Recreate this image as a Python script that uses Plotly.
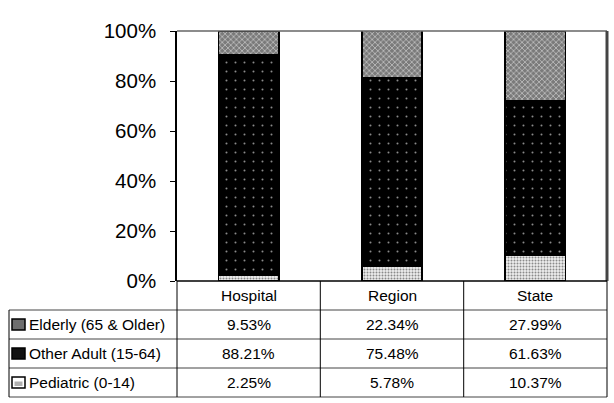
import plotly.graph_objects as go

categories = ["Hospital", "Region", "State"]
series_names = ["Pediatric (0-14)", "Other Adult (15-64)", "Elderly (65 & Older)"]
pediatric = [2.25, 5.78, 10.37]
other_adult = [88.21, 75.48, 61.63]
elderly = [9.53, 22.34, 27.99]
y_ticks = [0, 20, 40, 60, 80, 100]

W, H = 614, 403
L, R, T, B = 177, 607, 31, 281  # plot area in pixels

def px(x):
    return (x - L) / (R - L)

def py(y):
    return (B - y) / (B - T)

FONT = "Arial, Liberation Sans, sans-serif"

styles = {
    "Pediatric (0-14)": dict(color="#e6e6e6", pattern=dict(shape=".", fgcolor="#8a8a8a", bgcolor="#eeeeee", size=3, solidity=0.35, fillmode="replace")),
    "Other Adult (15-64)": dict(color="#000000", pattern=dict(shape=".", fgcolor="#8a8a8a", bgcolor="#000000", size=9, solidity=0.04, fillmode="replace")),
    "Elderly (65 & Older)": dict(color="#8c8c8c", pattern=dict(shape="x", fgcolor="#c4c4c4", bgcolor="#7a7a7a", size=4, solidity=0.35, fillmode="replace")),
}
values = {"Pediatric (0-14)": pediatric, "Other Adult (15-64)": other_adult, "Elderly (65 & Older)": elderly}

fig = go.Figure()
for name in series_names:
    st = styles[name]
    fig.add_trace(go.Bar(
        x=categories, y=values[name], name=name,
        marker=dict(color=st["color"], pattern=st["pattern"], line=dict(color="black", width=1.8)),
        showlegend=False, hoverinfo="skip",
    ))

fig.update_layout(
    barmode="stack", bargap=0.58,
    width=W, height=H,
    margin=dict(l=L, r=W - R, t=T, b=H - B, pad=0),
    plot_bgcolor="white", paper_bgcolor="white",
    font=dict(family=FONT, color="black"),
    xaxis=dict(showticklabels=False, showline=False, showgrid=False, zeroline=False, ticks=""),
    yaxis=dict(range=[0, 100], tickvals=y_ticks, ticktext=[f"{v}%" for v in y_ticks],
               tickfont=dict(size=20.5, family=FONT), ticks="outside", ticklen=5, tickcolor="black",
               ticklabelstandoff=10,
               showline=True, linecolor="black", linewidth=1.5, showgrid=False, zeroline=False),
)

shapes = []
def line(x0, y0, x1, y1, color="black", width=1):
    shapes.append(dict(type="line", xref="paper", yref="paper", x0=px(x0), y0=py(y0), x1=px(x1), y1=py(y1),
                       line=dict(color=color, width=width)))

# plot frame: top and right (grey textured look)
line(L, T, R, T, color="#666666", width=1.5)
line(R, T, R, B, color="#444444", width=3)

# table
row_y = [281, 310, 339, 368, 397]
col_x = [9, L, 320.3, 463.7, R]
line(L, 281, R, 281, width=1.5)
for y in row_y[1:]:
    line(9, y, R, y, color="#444444", width=1)
line(9, 310, 9, 397)
for x in col_x[1:]:
    line(x, 281, x, 397)

annotations = []
col_centers = [(col_x[i + 1] + col_x[i + 2]) / 2 for i in range(3)]
for cx, cat in zip(col_centers, categories):
    annotations.append(dict(x=px(cx), y=py(295.5), xref="paper", yref="paper", text=cat, showarrow=False,
                            font=dict(size=15.5, family=FONT), xanchor="center", yanchor="middle"))

table_rows = [("Elderly (65 & Older)", elderly), ("Other Adult (15-64)", other_adult), ("Pediatric (0-14)", pediatric)]
swatch_fill = {"Elderly (65 & Older)": "#6e6e6e", "Other Adult (15-64)": "#111111", "Pediatric (0-14)": "#ffffff"}
for i, (name, vals) in enumerate(table_rows):
    yc = (row_y[i + 1] + row_y[i + 2]) / 2
    shapes.append(dict(type="rect", xref="paper", yref="paper", x0=px(12), x1=px(25), y0=py(yc - 5.5), y1=py(yc + 5.5),
                       fillcolor=swatch_fill[name], line=dict(color="black", width=1.5)))
    if name == "Pediatric (0-14)":
        shapes.append(dict(type="rect", xref="paper", yref="paper", x0=px(14.5), x1=px(22.5), y0=py(yc - 1), y1=py(yc + 3.5),
                           fillcolor="#b0b0b0", line=dict(width=0)))
    annotations.append(dict(x=px(27), y=py(yc), xref="paper", yref="paper", text=name, showarrow=False,
                            font=dict(size=15.5, family=FONT), xanchor="left", yanchor="middle"))
    for cx, v in zip(col_centers, vals):
        annotations.append(dict(x=px(cx), y=py(yc), xref="paper", yref="paper", text=f"{v:.2f}%", showarrow=False,
                                font=dict(size=15.5, family=FONT), xanchor="center", yanchor="middle"))

fig.update_layout(shapes=shapes, annotations=annotations)
fig.write_html("out.html", config={"displayModeBar": False},
               post_script="document.body.style.margin='0';document.body.style.overflow='hidden';")
